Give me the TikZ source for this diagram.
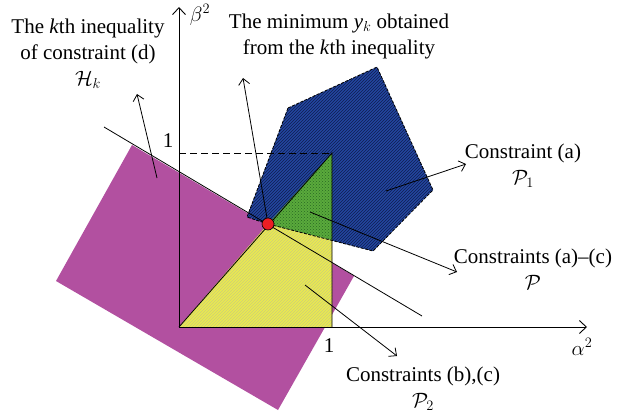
\documentclass[tikz,border=0pt]{standalone}
\usepackage{fontspec}
\setmainfont{Liberation Serif}
\usetikzlibrary{arrows.meta,patterns}
\definecolor{regmag}{RGB}{178,80,160}
\definecolor{regblue}{RGB}{35,70,160}
\definecolor{regnavy}{RGB}{15,30,80}
\definecolor{reggreen}{RGB}{90,170,60}
\definecolor{regdkgreen}{RGB}{40,105,35}
\definecolor{regyellow}{RGB}{234,234,80}
\definecolor{regylight}{RGB}{205,205,120}
\definecolor{dotred}{RGB}{235,30,35}
\tikzset{
  lbl/.style={font=\fontsize{21}{26}\selectfont, align=center, anchor=north, inner sep=0pt},
  axlbl/.style={font=\fontsize{21}{26}\selectfont, inner sep=0pt},
  axis/.style={line width=0.9pt, -{Straight Barb[length=7pt,width=13pt]}},
  bdry/.style={line width=0.8pt},
  ptr/.style={line width=0.8pt, -{Straight Barb[length=6pt,width=11pt]}},
  hkreg/.style={fill=regmag},
  poneReg/.style={fill=regblue, postaction={pattern=north east lines, pattern color=regnavy}},
  ptwoReg/.style={fill=regyellow, postaction={pattern=north east lines, pattern color=regylight}},
  pReg/.style={fill=reggreen, postaction={pattern=crosshatch dots, pattern color=regdkgreen}},
}

\begin{document}
\begin{tikzpicture}[x=1pt, y=-1pt]
  \useasboundingbox (0,0) rectangle (617,417);

  % axes and corners
  \coordinate (o) at (179,327);
  \coordinate (xend) at (587,327);
  \coordinate (yend) at (179,7);
  \coordinate (xone) at (332,327);
  \coordinate (yone) at (179,153);
  \coordinate (top) at (332,153);
  \coordinate (ymin) at (268,224);

  % line of the kth inequality
  \coordinate (hkA) at (104,127);
  \coordinate (hkB) at (422,316);

  % regions
  \fill[hkreg] (132,145) -- (354,276) -- (278,410) -- (56,281) -- cycle;
  \path[poneReg] (288,108) -- (377,67) -- (433,190) -- (373,251) -- (ymin) -- (247,217) -- cycle;
  \path[ptwoReg] (o) -- (ymin) -- (332,240) -- (xone) -- cycle;
  \path[pReg] (ymin) -- (top) -- (332,240) -- cycle;
  \draw[bdry, dash pattern=on 3pt off 1.5pt] (288,108) -- (377,67) -- (433,190) -- (373,251) -- (ymin) -- (247,217) -- cycle;

  \draw[bdry] (hkA) -- (hkB);
  \draw[bdry, dash pattern=on 7pt off 4pt] (yone) -- (top);
  \draw[bdry] (o) -- (top) -- (xone);
  \draw[axis] (o) -- (xend);
  \draw[axis] (o) -- (yend);

  % axis labels
  \node[axlbl] (alab) at (582,347) {$\alpha^2$};
  \node[axlbl] (blab) at (200,15) {$\beta^2$};
  \node[axlbl] (xonelab) at (329,346) {1};
  \node[axlbl] (yonelab) at (168,141) {1};

  % texts
  \node[lbl] (hklab) at (88,19) {The \textit{k}th inequality\\ of constraint (d)\\ $\mathcal{H}_k$};
  \node[lbl] (yklab) at (339,14) {The minimum \textit{y}$_k$ obtained\\ from the \textit{k}th inequality};
  \node[lbl] (ponelab) at (523,144) {Constraint (a)\\ $\mathcal{P}_1$};
  \node[lbl] (plab) at (533,249) {Constraints (a)--(c)\\ $\mathcal{P}$};
  \node[lbl] (ptwolab) at (423,367) {Constraints (b),(c)\\ $\mathcal{P}_2$};

  % pointers
  \coordinate (hkFrom) at (157,178);
  \coordinate (hkTo) at (137,94);
  \coordinate (ykTo) at (243,78);
  \coordinate (poneFrom) at (386,191);
  \coordinate (poneTo) at (466,164);
  \coordinate (pFrom) at (310,212);
  \coordinate (pTo) at (457,272);
  \coordinate (ptwoFrom) at (305,285);
  \coordinate (ptwoTo) at (397,356);
  \draw[ptr] (hkFrom) -- (hkTo);
  \draw[ptr] (ymin) -- (ykTo);
  \draw[ptr] (poneFrom) -- (poneTo);
  \draw[ptr] (pFrom) -- (pTo);
  \draw[ptr] (ptwoFrom) -- (ptwoTo);

  \node[circle, draw, fill=dotred, line width=0.6pt, minimum size=12pt, inner sep=0pt] (dot) at (ymin) {};
\end{tikzpicture}
\end{document}
